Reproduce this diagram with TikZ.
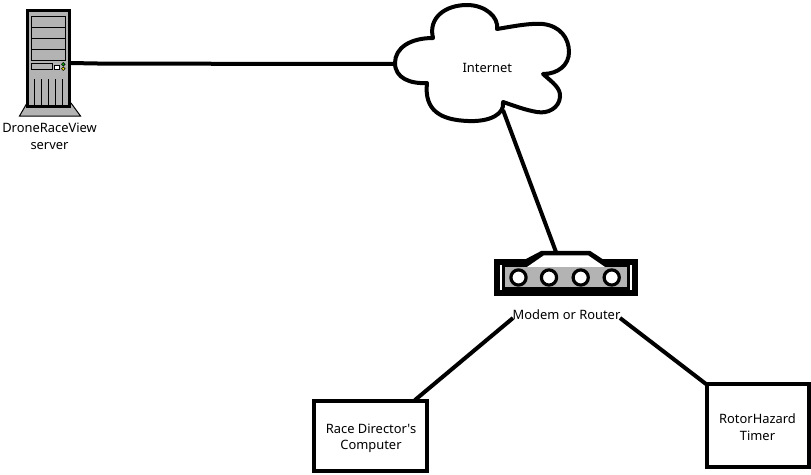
\documentclass[tikz,border=0pt]{standalone}
\usepackage{fontspec}
\setmainfont{Noto Sans}
\newfontfamily\rawfont{Noto Sans}
\definecolor{devgray}{HTML}{B3B3B3}
\tikzset{
  wire/.style={line width=4pt,line cap=butt},
  boxnode/.style={draw,line width=4pt,fill=white,inner sep=0pt},
  lab/.style={inner sep=0pt,align=center,font=\fontsize{12.9pt}{16.5pt}\selectfont},
  thin part/.style={draw=black,line width=1pt,fill=devgray}
}
\begin{document}
\begin{tikzpicture}[x=1pt,y=-1pt]
\useasboundingbox (0,0) rectangle (811,474);
% server
\draw[thin part,fill=devgray] (27,103) -- (71,103) -- (80.5,116) -- (19.5,116) -- cycle;
\node[draw,line width=3pt,fill=devgray,minimum width=42pt,minimum height=96pt,inner sep=0pt] (server) at (48.5,58.5) {};
\foreach \y in {16,27,38,49}{\draw[thin part] (31.7,\y) rectangle (65.7,\y+11);}
\draw[thin part] (31.7,63.5) rectangle (52.7,69.5);
\draw[line width=1pt,fill=white] (54.5,65.7) rectangle (59.5,69.5);
\draw[line width=.6pt,fill=green!70!black] (63.3,64.3) circle (1.8pt);
\draw[line width=.6pt,fill=yellow] (63.3,68.7) circle (1.8pt);
\foreach \x in {34.5,41.5,48.7,55.7,62.7}{\draw[line width=1pt] (\x,79) -- (\x,105);}
\node[lab] (serverlabel) at (49.5,136.5) {DroneRaceView\\server};
% cloud
\draw[line width=4pt,fill=white,line join=round] (433,38)
  .. controls (428,18) and (445,5) .. (467,5)
  .. controls (485,5) and (499,17) .. (497,29)
  .. controls (515,26) and (530,23) .. (543,24)
  .. controls (560,26) and (569,38) .. (569,52)
  .. controls (569,65) and (558,74) .. (543,74)
  .. controls (552,82) and (561,88) .. (560,97)
  .. controls (559,108) and (548,114) .. (537,112)
  .. controls (525,110) and (515,106) .. (503,102)
  .. controls (505,114) and (490,122) .. (468,121)
  .. controls (440,120) and (424,110) .. (427,83)
  .. controls (410,84) and (395,78) .. (395,63)
  .. controls (395,48) and (410,38) .. (433,38) -- cycle;
\node[lab] (internet) at (487.3,68) {Internet};
\coordinate (cloudW) at (395,64);
\coordinate (cloudS) at (503,110);
\coordinate (serverE) at (70,63);
\coordinate (serverK) at (103,63.6);
\draw[wire] (serverE) -- (serverK) -- (cloudW);
% router
\node[draw=none,fill=black,minimum width=144.5pt,minimum height=36.5pt,inner sep=0pt] (router) at (565.75,277.25) {};
\fill (524,260) -- (541.5,250.8) -- (590,250.8) -- (604,260) -- cycle;
\fill[white] (527,267) -- (544,255.3) -- (588,255.3) -- (605,267) -- cycle;
\fill[white] (500,265) rectangle (501.6,290);
\fill[white] (630,265) rectangle (631.8,290);
\fill[devgray] (505,266.5) rectangle (627,287);
\foreach \x in {518.5,549,580.7,611.7}{\draw[line width=3.2pt,fill=white] (\x,277.5) circle (7.6pt);}
\coordinate (routerT) at (556,252);
\draw[wire] (cloudS) -- (routerT);
\node[lab] (modem) at (566.5,314.5) {Modem or Router};
% boxes
\node[boxnode,minimum width=113pt,minimum height=69.4pt] (rd) at (370.8,436) {};
\node[lab] (rdlabel) at (371,438.5) {\rawfont Race Director's\\Computer};
\node[boxnode,minimum width=102pt,minimum height=82.4pt] (rh) at (758.3,425.5) {};
\node[lab] (rhlabel) at (757.5,427) {RotorHazard\\Timer};
\coordinate (mL) at (513,318);
\coordinate (mR) at (620,318);
\coordinate (rdT) at (415,400);
\coordinate (rhT) at (706,384);
\draw[wire] (mL) -- (rdT);
\draw[wire] (mR) -- (rhT);
\end{tikzpicture}
\end{document}
